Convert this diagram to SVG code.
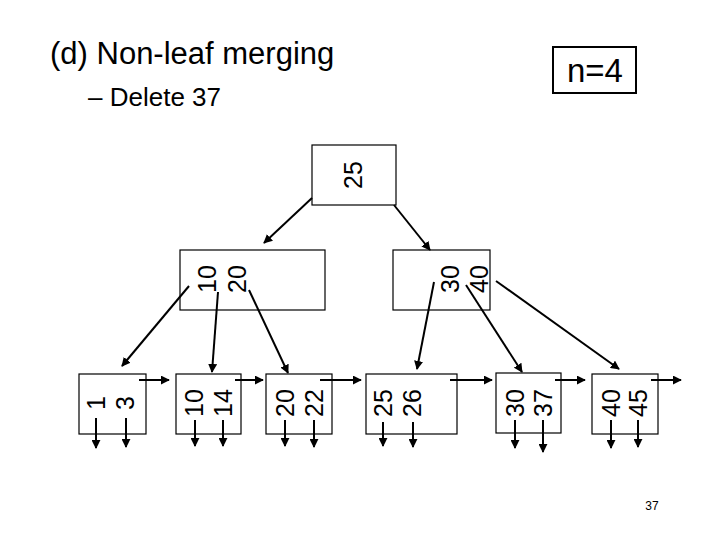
<svg xmlns="http://www.w3.org/2000/svg" width="720" height="540" viewBox="0 0 720 540">
<style>
.box{fill:#fff;stroke:#000;stroke-width:1.2}
.k{font-family:"Liberation Sans",Arial,sans-serif;font-size:25px;text-anchor:middle;dominant-baseline:central}
.c line{stroke:#000;stroke-width:2;marker-end:url(#ah)}
.t{font-family:"Liberation Sans",Arial,sans-serif}
</style>
<defs><marker id="ah" viewBox="0 0 10 10" refX="9" refY="5" markerWidth="4.5" markerHeight="4.5" orient="auto" markerUnits="strokeWidth"><path d="M0,0L10,5L0,10z"/></marker></defs>
<rect width="720" height="540" fill="#fff"/>
<text class="t" x="50" y="64" font-size="31">(d) Non-leaf merging</text>
<text class="t" x="88" y="106" font-size="26">– Delete 37</text>
<g id="n4"><rect x="553" y="47" width="83" height="46" fill="#fff" stroke="#000" stroke-width="2"/><text class="t" x="595" y="82" font-size="33" text-anchor="middle">n=4</text></g>
<text class="t" x="652" y="510" font-size="12" text-anchor="middle">37</text>
<g id="root"><rect class="box" x="312" y="145" width="84" height="60"/><text class="k" transform="translate(353,175) rotate(-90)">25</text></g>
<g id="iL"><rect class="box" x="180" y="250" width="145" height="60"/><text class="k" transform="translate(207,279) rotate(-90)">10</text><text class="k" transform="translate(237,279) rotate(-90)">20</text></g>
<g id="iR"><rect class="box" x="393" y="250" width="97" height="60"/><text class="k" transform="translate(450,279) rotate(-90)">30</text><text class="k" transform="translate(479,279) rotate(-90)">40</text></g>
<g id="l1"><rect class="box" x="79" y="374" width="67" height="60"/><text class="k" transform="translate(96,403) rotate(-90)">1</text><text class="k" transform="translate(125,403) rotate(-90)">3</text></g>
<g id="l2"><rect class="box" x="176" y="374" width="65" height="60"/><text class="k" transform="translate(194,403) rotate(-90)">10</text><text class="k" transform="translate(223,403) rotate(-90)">14</text></g>
<g id="l3"><rect class="box" x="266" y="374" width="66" height="60"/><text class="k" transform="translate(285,403) rotate(-90)">20</text><text class="k" transform="translate(314,403) rotate(-90)">22</text></g>
<g id="l4"><rect class="box" x="366" y="374" width="91" height="60"/><text class="k" transform="translate(383,403) rotate(-90)">25</text><text class="k" transform="translate(412,403) rotate(-90)">26</text></g>
<g id="l5"><rect class="box" x="496" y="373" width="65" height="60"/><text class="k" transform="translate(515,403) rotate(-90)">30</text><text class="k" transform="translate(543,403) rotate(-90)">37</text></g>
<g id="l6"><rect class="box" x="592" y="374" width="66" height="60"/><text class="k" transform="translate(611,403) rotate(-90)">40</text><text class="k" transform="translate(638,403) rotate(-90)">45</text></g>
<g class="c" id="connectors">
<line x1="312" y1="198" x2="264" y2="243"/>
<line x1="394" y1="205" x2="430" y2="250"/>
<line x1="189" y1="286" x2="122" y2="366"/>
<line x1="218" y1="292" x2="212" y2="372"/>
<line x1="249" y1="290" x2="288" y2="373"/>
<line x1="434" y1="282" x2="417" y2="369"/>
<line x1="466" y1="285" x2="522" y2="372"/>
<line x1="496" y1="281" x2="619" y2="369"/>
<line x1="139" y1="380" x2="169" y2="380"/>
<line x1="235" y1="380" x2="263" y2="380"/>
<line x1="320" y1="380" x2="361" y2="380"/>
<line x1="450" y1="380" x2="492" y2="380"/>
<line x1="555" y1="380" x2="585" y2="380"/>
<line x1="651" y1="380" x2="681" y2="380"/>
<line x1="96" y1="418" x2="96" y2="448"/>
<line x1="126" y1="418" x2="126" y2="447"/>
<line x1="195" y1="420" x2="195" y2="446"/>
<line x1="223" y1="420" x2="223" y2="446"/>
<line x1="285" y1="420" x2="285" y2="446"/>
<line x1="314" y1="420" x2="314" y2="447"/>
<line x1="383" y1="422" x2="383" y2="446"/>
<line x1="413" y1="422" x2="413" y2="447"/>
<line x1="515" y1="420" x2="515" y2="448"/>
<line x1="543" y1="420" x2="543" y2="452"/>
<line x1="611" y1="420" x2="611" y2="448"/>
<line x1="638" y1="420" x2="638" y2="447"/>
</g>
</svg>
